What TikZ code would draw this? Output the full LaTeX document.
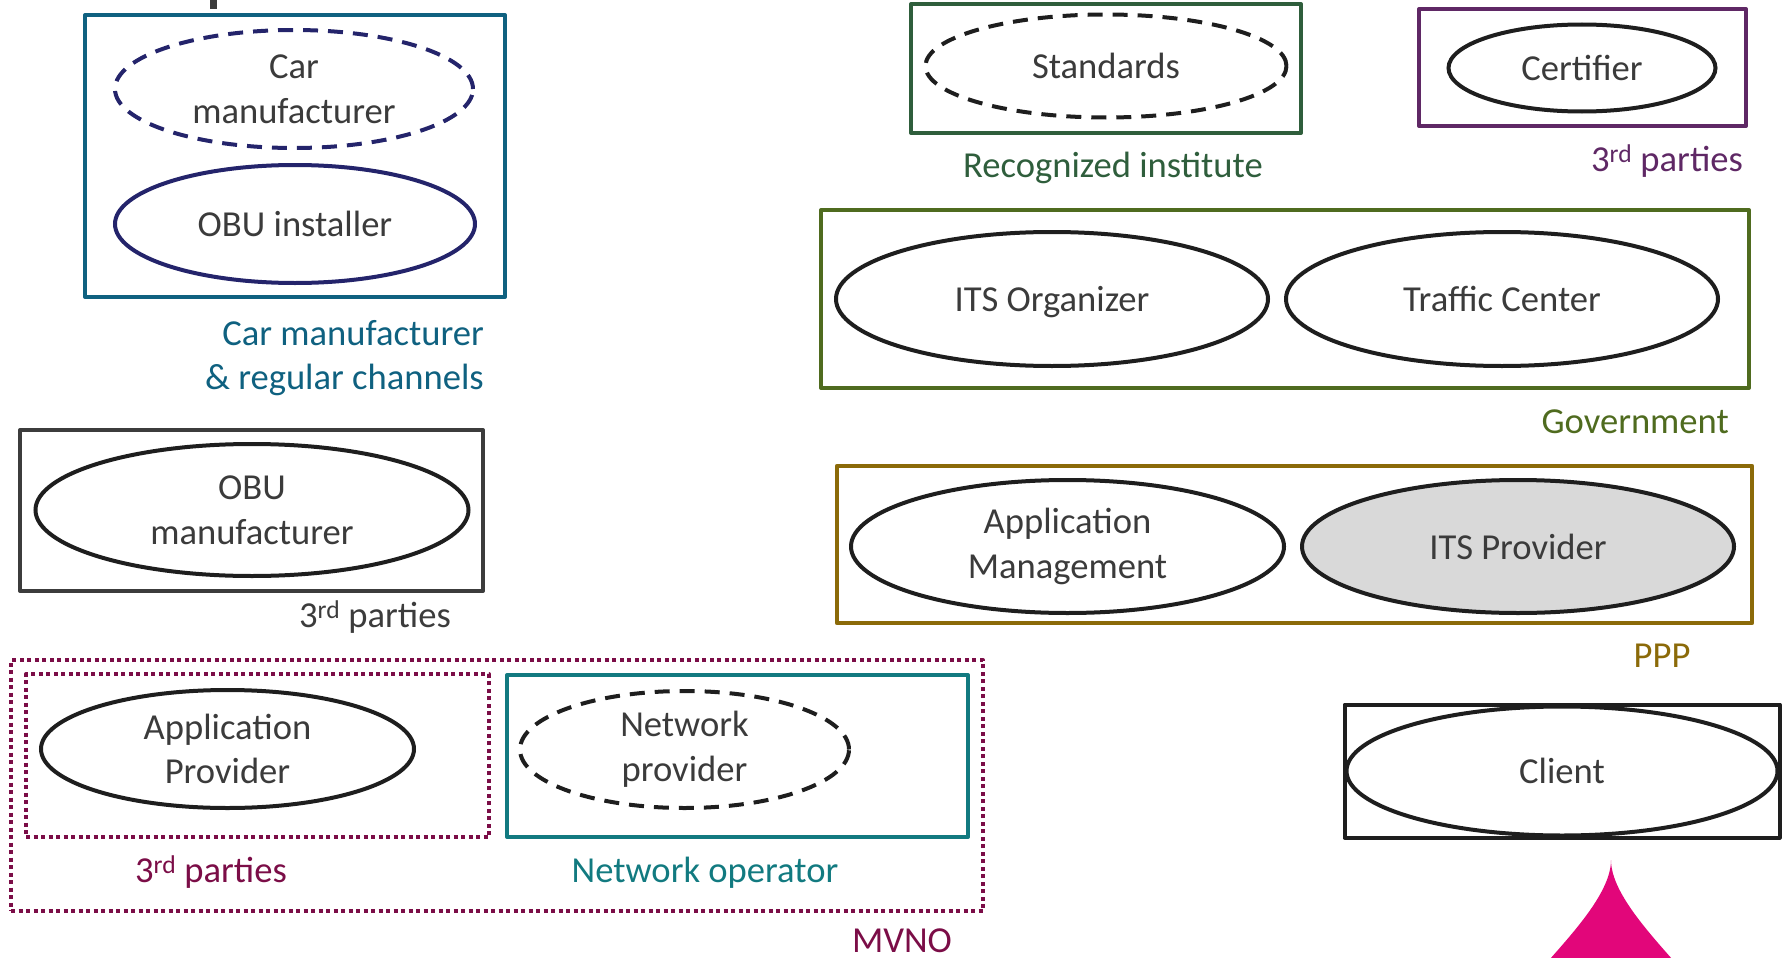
\documentclass[tikz,border=0pt]{standalone}
\usepackage{fontspec}
\setmainfont{Carlito}
\usetikzlibrary{shapes.geometric}
\definecolor{txt}{HTML}{3B3B3B}
\definecolor{carteal}{HTML}{0F6180}
\definecolor{navy}{HTML}{24246B}
\definecolor{obugray}{HTML}{3C3C3C}
\definecolor{mvno}{HTML}{7B0D47}
\definecolor{netteal}{HTML}{127A80}
\definecolor{stdgreen}{HTML}{2F5E3C}
\definecolor{certpurple}{HTML}{5F2865}
\definecolor{govgreen}{HTML}{4F6B1F}
\definecolor{pppbrown}{HTML}{8B6A09}
\definecolor{clientblack}{HTML}{1E1E1E}
\definecolor{ellblack}{HTML}{1E1E1E}
\definecolor{provgray}{HTML}{D9D9D9}
\definecolor{flare}{HTML}{E2067A}
\tikzset{
  every node/.style={font=\fontsize{36.6}{44.7}\selectfont},
  boxshape/.style={draw, rectangle, inner sep=0pt, line width=4pt, line join=round},
  ell/.style={draw=ellblack, ellipse, inner sep=0pt, line width=4pt, text=txt, align=center},
  dashell/.style={ell, dash pattern=on 15pt off 10pt},
  dotbox/.style={boxshape, draw=mvno, line width=4pt, dash pattern=on 4pt off 3.5pt},
  lbl/.style={inner sep=0pt, align=center},
  oneline/.style={text height=25pt, text depth=0pt}
}
\begin{document}
\begin{tikzpicture}[x=1pt,y=-1pt]
\useasboundingbox (0,0) rectangle (1786,958);
% partial mark at top
\fill[obugray] (210,0) rectangle (217,9);

% Car manufacturer group
\node[boxshape, draw=carteal, minimum width=420pt, minimum height=282pt] (carbox) at (295,156) {};
\node[dashell, draw=navy, minimum width=358pt, minimum height=118pt] (carmfr) at (294,89) {Car\\manufacturer};
\node[ell, oneline, draw=navy, minimum width=360pt, minimum height=118pt] (obuinst) at (295,224) {OBU installer};
\node[lbl, text=carteal, anchor=east, align=right] (carlbl) at (484,358) {Car manufacturer\\\& regular channels};

% OBU manufacturer
\node[boxshape, draw=obugray, minimum width=463pt, minimum height=161pt] (obubox) at (251.5,510.5) {};
\node[ell, minimum width=433pt, minimum height=132pt] (obumfr) at (252,510) {OBU\\manufacturer};
\node[lbl, oneline, text=obugray] (obulbl) at (375,615) {3\textsuperscript{rd} parties};

% MVNO
\node[dotbox, minimum width=972pt, minimum height=251pt] (mvnobox) at (497,785.5) {};
\node[dotbox, minimum width=463pt, minimum height=163pt] (thirdbox) at (257.5,755.5) {};
\node[boxshape, draw=netteal, minimum width=461pt, minimum height=162pt] (netopbox) at (737.5,756) {};
\node[ell, minimum width=373pt, minimum height=118pt] (appprov) at (227.5,749) {Application\\Provider};
\node[dashell, minimum width=329pt, minimum height=117pt] (netprov) at (684.5,749.5) {Network\\provider};
\node[lbl, oneline, text=mvno] (thirdlbl) at (211,870) {3\textsuperscript{rd} parties};
\node[lbl, oneline, text=netteal] (netoplbl) at (705,870) {Network operator};
\node[lbl, oneline, text=mvno] (mvnolbl) at (902,940) {MVNO};

% Standards
\node[boxshape, draw=stdgreen, minimum width=390pt, minimum height=129pt] (stdbox) at (1106,68.5) {};
\node[dashell, oneline, minimum width=361pt, minimum height=103pt] (std) at (1106,66) {Standards};
\node[lbl, oneline, text=stdgreen] (stdlbl) at (1113,165) {Recognized institute};

% Certifier
\node[boxshape, draw=certpurple, minimum width=327pt, minimum height=117pt] (certbox) at (1582.5,67.5) {};
\node[ell, oneline, minimum width=267pt, minimum height=87pt] (cert) at (1582,68) {Certifier};
\node[lbl, oneline, text=certpurple] (certlbl) at (1667,159) {3\textsuperscript{rd} parties};

% Government
\node[boxshape, draw=govgreen, minimum width=928pt, minimum height=178pt] (govbox) at (1285,299) {};
\node[ell, oneline, minimum width=432pt, minimum height=134pt] (itsorg) at (1052,299) {ITS Organizer};
\node[ell, oneline, minimum width=432pt, minimum height=134pt] (traffic) at (1502,299) {Traffic Center};
\node[lbl, oneline, text=govgreen, anchor=east] (govlbl) at (1729,421) {Government};

% PPP
\node[boxshape, draw=pppbrown, line width=4.5pt, minimum width=915pt, minimum height=157pt] (pppbox) at (1294.5,544.5) {};
\node[ell, minimum width=433pt, minimum height=133pt] (appmgmt) at (1067.5,546.5) {Application\\Management};
\node[ell, oneline, fill=provgray, minimum width=432pt, minimum height=133pt] (itsprov) at (1518,546.5) {ITS Provider};
\node[lbl, oneline, text=pppbrown] (ppplbl) at (1662,655) {PPP};

% Client
\node[boxshape, draw=clientblack, minimum width=435pt, minimum height=133pt] (clientbox) at (1562,771) {};
\node[ell, oneline, minimum width=431pt, minimum height=129pt] (client) at (1562,771) {Client};

% flare shape at bottom
\begin{scope}
\clip (0,0) rectangle (1786,958);
\fill[flare] (1611,860) .. controls (1611,895) and (1566,940) .. (1536,975) -- (1686,975) .. controls (1656,940) and (1611,895) .. (1611,860) -- cycle;
\end{scope}
\end{tikzpicture}
\end{document}
